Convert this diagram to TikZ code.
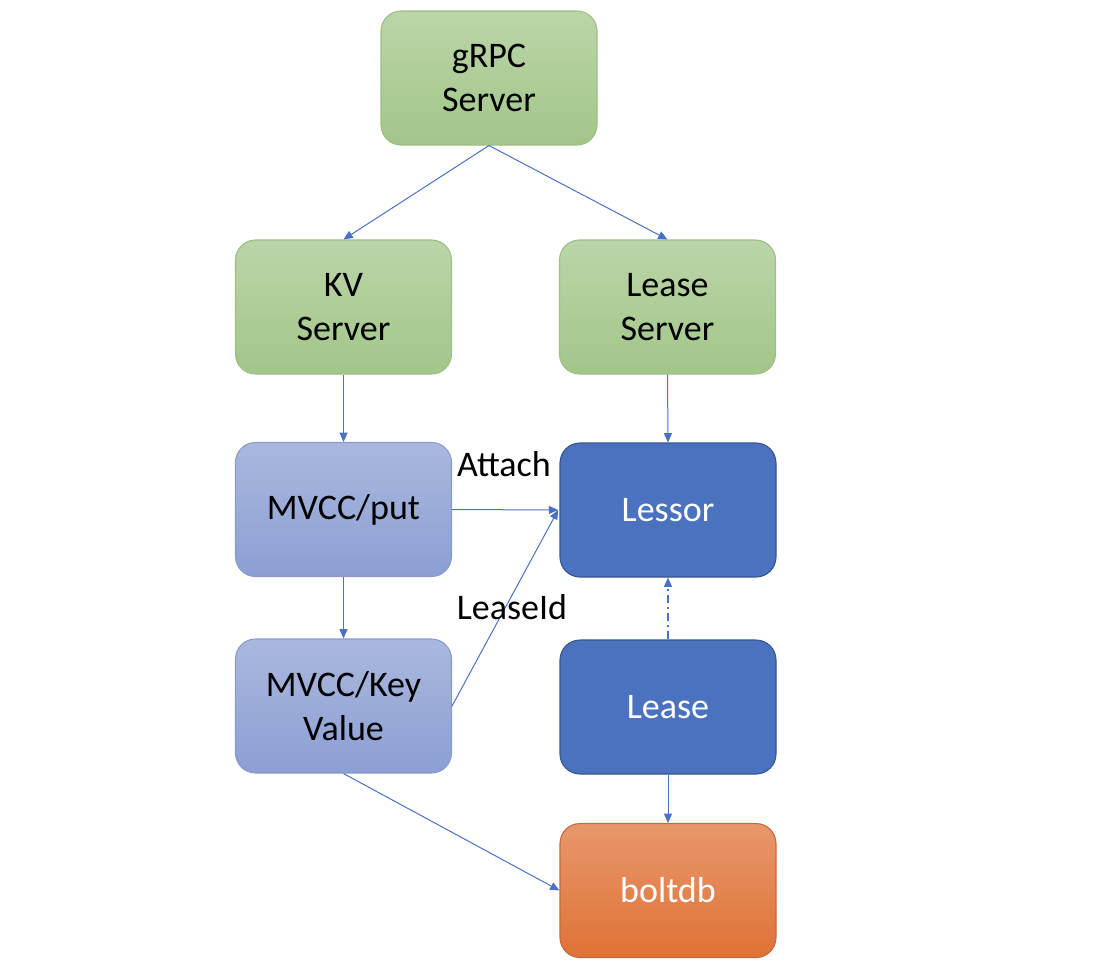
\documentclass[tikz,border=0pt]{standalone}
\usepackage{fontspec}
\setmainfont{Carlito}
\usetikzlibrary{arrows.meta}
\definecolor{gtop}{HTML}{BBD5A8}
\definecolor{gbot}{HTML}{A2C689}
\definecolor{gbord}{HTML}{9DBF86}
\definecolor{ltop}{HTML}{AAB8DE}
\definecolor{lbot}{HTML}{8C9FD3}
\definecolor{lbord}{HTML}{8A9BCB}
\definecolor{dfill}{HTML}{4B72BE}
\definecolor{dbord}{HTML}{36558F}
\definecolor{otop}{HTML}{E8976C}
\definecolor{obot}{HTML}{DF7236}
\definecolor{obord}{HTML}{C9683A}
\definecolor{arr}{HTML}{4A72C4}
\begin{document}
\begin{tikzpicture}[x=0.75pt,y=-0.75pt,
  box/.style={rounded corners=15pt,minimum width=162pt,minimum height=100.5pt,align=center,font=\fontsize{27}{33}\selectfont,line width=0.8pt},
  green/.style={box,top color=gtop,bottom color=gbot,draw=gbord,text=black},
  lblue/.style={box,top color=ltop,bottom color=lbot,draw=lbord,text=black},
  dblue/.style={box,fill=dfill,draw=dbord,text=white},
  orange/.style={box,top color=otop,bottom color=obot,draw=obord,text=white},
  conn/.style={draw=arr,line width=0.75pt,-{Triangle[length=7pt,width=6pt]}},
  lbl/.style={font=\fontsize{27}{33}\selectfont,text=black}]
\useasboundingbox (0,0) rectangle (1113,968);
\node[green] (grpc) at (489,78) {gRPC\\Server};
\node[green] (kv) at (343.5,307) {KV\\Server};
\node[green] (ls) at (667.5,307) {Lease\\Server};
\node[lblue] (put) at (343.5,509.5) {MVCC/put};
\node[dblue] (lessor) at (668,510) {Lessor};
\node[lblue] (mkv) at (343.5,706) {MVCC/Key\\Value};
\node[dblue] (lease) at (668,707) {Lease};
\node[orange] (bolt) at (668,890.5) {boltdb};
\coordinate (lin) at ([xshift=-1pt]lessor.west);
\draw[conn] (grpc.south) -- (kv.north);
\draw[conn] (grpc.south) -- (ls.north);
\draw[conn] (kv.south) -- (put.north);
\draw[conn] (ls.south) -- (lessor.north);
\draw[conn] (put.east) -- (lin);
\draw[conn] (mkv.east) -- (lin);
\draw[conn] (put.south) -- (mkv.north);
\draw[conn] (mkv.south) -- (bolt.west);
\draw[conn] (lease.south) -- (bolt.north);
\draw[conn,line width=1pt,dash pattern=on 6pt off 3pt on 1.5pt off 3pt] (lease.north) -- (lessor.south);
\node[lbl] (attach) at (504,464) {Attach};
\node[lbl] (leaseid) at (512,607) {LeaseId};
\end{tikzpicture}
\end{document}
